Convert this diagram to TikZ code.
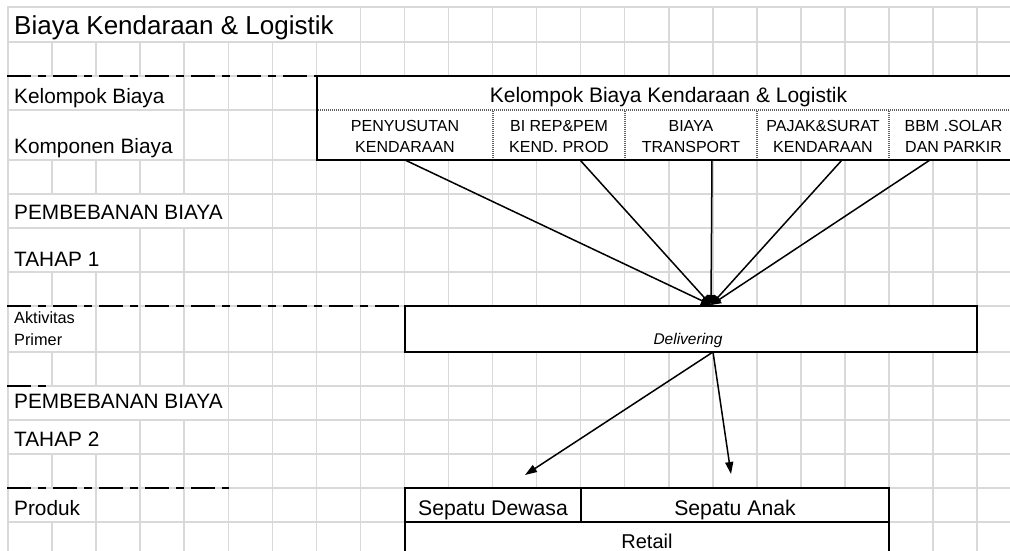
\documentclass[tikz,border=0pt]{standalone}
\usepackage{fontspec}
\setmainfont{Liberation Sans}
\usetikzlibrary{arrows.meta,calc}

\definecolor{gridgray}{RGB}{217,217,217}
\definecolor{hairgray}{RGB}{95,95,95}

\begin{document}
\begin{tikzpicture}[x=1pt,y=-1pt,
  gridline/.style={draw=gridgray, line width=1.5pt},
  sepline/.style={draw=black, line width=2.3pt, dash pattern=on 24pt off 7pt on 8pt off 7pt},
  hair/.style={draw=hairgray, line width=1.8pt, dash pattern=on 1pt off 1pt},
  frame/.style={draw=black, fill=white, line width=2pt, inner sep=0pt, outer sep=0pt, anchor=north west},
  rowlabel/.style={anchor=base west, inner sep=0pt, font=\fontsize{20.8}{25}\selectfont},
  smalllabel/.style={anchor=base west, inner sep=0pt, font=\fontsize{16.3}{19}\selectfont},
  comp/.style={align=center, inner sep=0pt, font=\fontsize{16}{21.6}\selectfont},
  feed/.style={draw=black, line width=1.5pt, -{Triangle[length=10pt,width=8.5pt]}},
  alloc/.style={draw=black, line width=1.5pt, -{Triangle[length=12pt,width=8pt]}},
]
\useasboundingbox (0,0) rectangle (1010,551);
\clip (0,0) rectangle (1010,551);

% worksheet grid
\foreach \k in {0,...,22}
  \draw[gridline] ({8+44.05*\k},7) -- ({8+44.05*\k},560);
\foreach \y in {7,42,76,110,160,194,228,272,306,352,386,420,454,488,522}
  \draw[gridline] (7,\y) -- (1010,\y);

% cells that long labels run across
\fill[white] (9,7.75) rectangle (359,41.25);
\fill[white] (9,76.75) rectangle (183,109.25);
\fill[white] (9,110.75) rectangle (183,159.25);
\fill[white] (9,194.75) rectangle (227,227.25);
\fill[white] (9,386.75) rectangle (227,419.25);
\fill[white] (9,228.75) rectangle (139,271.25);
\fill[white] (9,420.75) rectangle (139,453.25);
\fill[white] (9,306.75) rectangle (95,351.25);
\fill[white] (9,488.75) rectangle (95,521.25);

% title and row labels
\node[anchor=base west, inner sep=0pt, font=\fontsize{26}{31}\selectfont] (title) at (14,35) {Biaya Kendaraan \& Logistik};
\node[rowlabel] (kelompok) at (14,103) {Kelompok Biaya};
\node[rowlabel] (komponen) at (14,153) {Komponen Biaya};
\node[rowlabel] (beban1) at (14,219.5) {PEMBEBANAN BIAYA};
\node[rowlabel] (tahap1) at (14,266) {TAHAP 1};
\node[smalllabel] (aktivitas) at (14,323.5) {Aktivitas};
\node[smalllabel] (primer) at (14,345) {Primer};
\node[rowlabel] (beban2) at (14,408.5) {PEMBEBANAN BIAYA};
\node[rowlabel] (tahap2) at (14,446) {TAHAP 2};
\node[rowlabel] (produk) at (14,515) {Produk};

% section separators
\draw[sepline] (7,76) -- (317,76);
\draw[sepline] (7,306) -- (401,306);
\draw[sepline] (7,386) -- (53,386);
\draw[sepline] (7,488) -- (229,488);

% cost group and its components
\node[frame, minimum width=703pt, minimum height=84pt] (kbox) at (317,76) {};
\node[anchor=base, inner sep=0pt, font=\fontsize{21}{25}\selectfont] (head) at (668.5,102.5) {Kelompok Biaya Kendaraan \& Logistik};
\draw[hair] (318,110) -- (1010,110);
\foreach \x in {493,625,757,889}
  \draw[hair] (\x,111) -- (\x,159);
\node[comp] (c1) at (405,136.6) {PENYUSUTAN\\KENDARAAN};
\node[comp] (c2) at (559,136.6) {BI REP\&PEM\\KEND. PROD};
\node[comp] (c3) at (691,136.6) {BIAYA\\TRANSPORT};
\node[comp] (c4) at (823,136.6) {PAJAK\&SURAT\\KENDARAAN};
\node[comp] (c5) at (953.5,136.6) {BBM .SOLAR\\DAN PARKIR};

% primary activity
\node[frame, minimum width=572pt, minimum height=46pt, text height=30pt, text depth=0pt,
      font=\itshape\fontsize{15.5}{18}\selectfont] (deliv) at (405,306) {\hspace*{-6pt}Delivering};
\coordinate (hub) at ($(deliv.north)+(20,-1)$);

% products
\node[frame, minimum width=176pt, minimum height=34pt, text height=20pt, text depth=0pt,
      font=\fontsize{21.2}{25}\selectfont] (dewasa) at (405,488) {Sepatu Dewasa};
\node[frame, minimum width=308pt, minimum height=34pt, text height=20pt, text depth=0pt,
      font=\fontsize{21.2}{25}\selectfont] (anak) at (581,488) {Sepatu Anak};
\node[frame, minimum width=484pt, minimum height=38pt, text height=14pt, text depth=0pt,
      font=\fontsize{20}{24}\selectfont] (retail) at (405,522) {Retail};

% stage 1 assignment
\draw[feed] (c1.center |- kbox.south) -- (hub);
\draw[feed] ($(c2.center |- kbox.south)+(21,0)$) -- (hub);
\draw[feed] ($(c3.center |- kbox.south)+(21,0)$) -- (hub);
\draw[feed] ($(c4.center |- kbox.south)+(19,0)$) -- (hub);
\draw[feed] ($(c5.center |- kbox.south)+(-23.5,0)$) -- (hub);

% stage 2 assignment
\draw[alloc] ($(deliv.south)+(22,0)$) -- ($(dewasa.north)+(32,-13)$);
\draw[alloc] ($(deliv.south)+(22,0)$) -- ($(anak.north)+(-4,-14)$);
\end{tikzpicture}
\end{document}
